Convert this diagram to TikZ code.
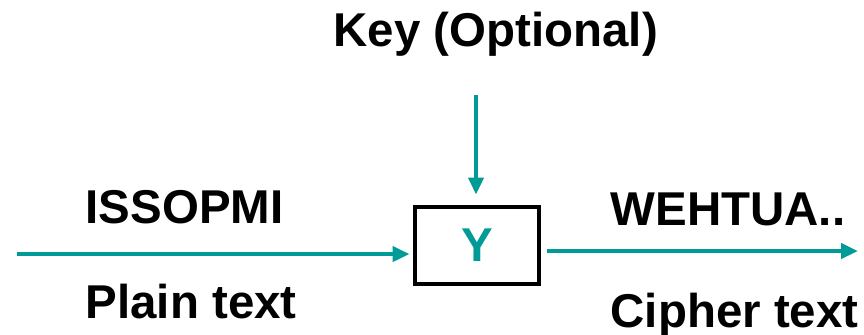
\documentclass[tikz,border=0pt]{standalone}
\usepackage{fontspec}
\setmainfont{Liberation Sans}
\usetikzlibrary{arrows.meta}
\definecolor{flow}{RGB}{0,155,150}
\tikzset{
    lbl/.style={anchor=base west, inner sep=0pt, font=\bfseries\fontsize{13.5}{16}\selectfont},
    flowline/.style={draw=flow, line width=1.4pt, -{Triangle[length=0.17cm,width=0.15cm]}},
}
\begin{document}
\begin{tikzpicture}
    \useasboundingbox (0,0) rectangle (8.64,-3.34);

    % the cipher block
    \node[draw, line width=1.4pt, minimum width=1.24cm, minimum height=0.77cm,
          text=flow, font=\bfseries\fontsize{13.5}{16}\selectfont] (ybox) at (4.77,-2.455) {Y};

    \coordinate (pin)  at (0.17,-2.54);
    \coordinate (cout) at (8.58,-2.51);
    \coordinate (kin)  at (4.76,-0.95);

    \draw[flowline, shorten >=0.03cm] (pin) -- (pin -| ybox.west);
    \draw[flowline] (ybox.east |- cout) ++(0.06,0) coordinate (cstart) -- (cout);
    \draw[flowline, shorten >=0.1cm] (kin) -- (kin |- ybox.north);

    \node[lbl] (key)    at (3.33,-0.46) {Key (Optional)};
    \node[lbl] (ptxt)   at (0.85,-2.23) {ISSOPMI};
    \node[lbl] (plain)  at (0.85,-3.18) {Plain text};
    \node[lbl] (ctxt)   at (6.10,-2.25) {WEHTUA..};
    \node[lbl] (cipher) at (6.10,-3.27) {Cipher text};
\end{tikzpicture}
\end{document}
